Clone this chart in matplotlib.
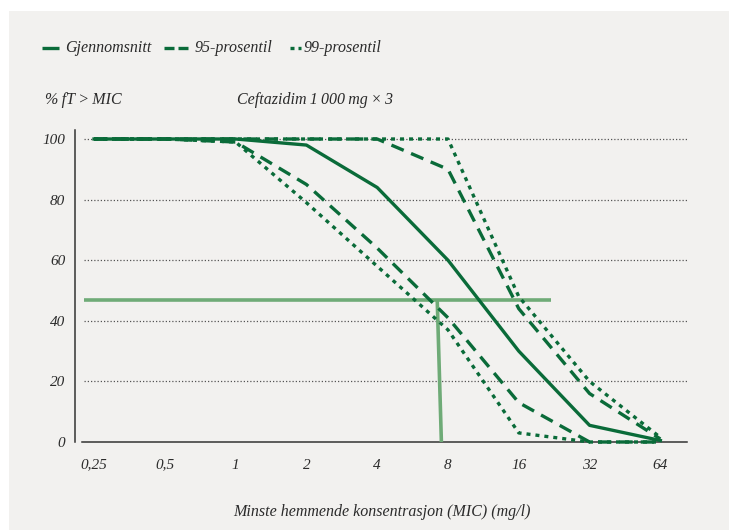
import matplotlib
matplotlib.use("Agg")
import matplotlib.pyplot as plt
from matplotlib.lines import Line2D
from matplotlib.patches import Rectangle

# ---- data ----
mic = [0.25, 0.5, 1, 2, 4, 8, 16, 32, 64]
mic_labels = ["0,25", "0,5", "1", "2", "4", "8", "16", "32", "64"]
mean_vals = [100, 100, 100, 98, 84, 60, 30, 5.5, 0.5]
p95_low = [100, 100, 99, 85, 64, 41, 13, 0, 0]
p95_high = [100, 100, 100, 100, 100, 90, 44, 16, 1]
p99_low = [100, 100, 99, 79, 58, 37, 3, 0, 0]
p99_high = [100, 100, 100, 100, 100, 100, 48, 20, 1.5]
target_level = 47
target_x_range = [0.227, 21.9]
breakpoint_x = [7.2, 7.5]
yticks = [0, 20, 40, 60, 80, 100]
legend_labels = ["Gjennomsnitt", "95-prosentil", "99-prosentil"]

dark = "#0a6b39"
light = "#6fab77"
bg = "#f2f1ef"
txt = "#2b2b2b"

plt.rcParams['font.family'] = ['Liberation Serif', 'DejaVu Serif']

fig = plt.figure(figsize=(7.29, 5.30), dpi=100)
fig.patch.set_facecolor("white")
fig.patches.append(Rectangle((9/729, 0), 1 - 9/729, 1 - 11/530, transform=fig.transFigure,
                             facecolor=bg, edgecolor="none", zorder=-10))

ax = fig.add_axes([75/729, (530-442)/530, (688-75)/729, (442-130)/530])
ax.set_facecolor("none")
ax.set_xscale("log", base=2)
ax.set_xlim(0.2075, 83.9)
ax.set_ylim(0, 102.97)

for s in ["top", "right", "bottom"]:
    ax.spines[s].set_visible(False)
ax.spines["left"].set_color("#333333")
ax.spines["left"].set_linewidth(1.1)

# grid lines
for yv in yticks[1:]:
    ax.plot([0.227, 83], [yv, yv], color="#555555", lw=0.9, linestyle=(0, (1, 1.6)), zorder=1)
ax.plot([0.222, 83], [0, 0], color="#333333", lw=1.1, zorder=1, clip_on=False)

lw = 2.4
dash = (0, (4.0, 2.4))
dot = (0, (1.2, 1.5))
ax.plot(mic, mean_vals, color=dark, lw=lw, zorder=3, clip_on=False)
ax.plot(mic, p95_low, color=dark, lw=lw, linestyle=dash, zorder=3, clip_on=False)
ax.plot(mic, p95_high, color=dark, lw=lw, linestyle=dash, zorder=3, clip_on=False)
ax.plot(mic, p99_low, color=dark, lw=lw, linestyle=dot, zorder=3, clip_on=False)
ax.plot(mic, p99_high, color=dark, lw=lw, linestyle=dot, zorder=3, clip_on=False)

# target lines
ax.plot(target_x_range, [target_level, target_level], color=light, lw=2.6, zorder=2,
        solid_capstyle="butt", clip_on=False)
ax.plot(breakpoint_x, [target_level, 0], color=light, lw=2.6, zorder=2,
        solid_capstyle="butt", clip_on=False)

ax.set_xticks(mic)
ax.set_xticklabels(mic_labels)
ax.set_xticks([], minor=True)
ax.set_yticks(yticks)
ax.set_yticklabels([str(v) for v in yticks])
ax.tick_params(axis="both", length=0, labelsize=11, labelcolor=txt)
ax.tick_params(axis="y", pad=7)
ax.tick_params(axis="x", pad=12)
for lab in ax.get_xticklabels() + ax.get_yticklabels():
    lab.set_fontstyle("italic")

ax.set_xlabel("Minste hemmende konsentrasjon (MIC) (mg/l)", fontsize=11.5,
              fontstyle="italic", color=txt, labelpad=23)

fig.text(45/729, 1 - 100/530, "%\u2009fT\u2009>\u2009MIC", fontsize=11.5, fontstyle="italic",
         color=txt, va="center", ha="left")
fig.text(237/729, 1 - 100/530, "Ceftazidim\u20091\u2009000\u2009mg\u2009×\u20093", fontsize=11.5,
         fontstyle="italic", color=txt, va="center", ha="left")

# manual legend
ly = 1 - 48/530
def fx(px):
    return px / 729
legend_segments = [
    [(42, 59)],
    [(164, 174), (178, 188)],
    [(290, 293.5), (297.5, 301)],
]
for segs in legend_segments:
    for a, b in segs:
        fig.add_artist(Line2D([fx(a), fx(b)], [ly, ly], color=dark, lw=lw,
                              solid_capstyle="butt", transform=fig.transFigure))
for xpx, lab in zip([65, 195, 304], legend_labels):
    fig.text(fx(xpx), ly, lab, fontsize=11.5, fontstyle="italic", color=txt,
             va="center", ha="left")

fig.savefig("out.png", dpi=100, facecolor="white")
